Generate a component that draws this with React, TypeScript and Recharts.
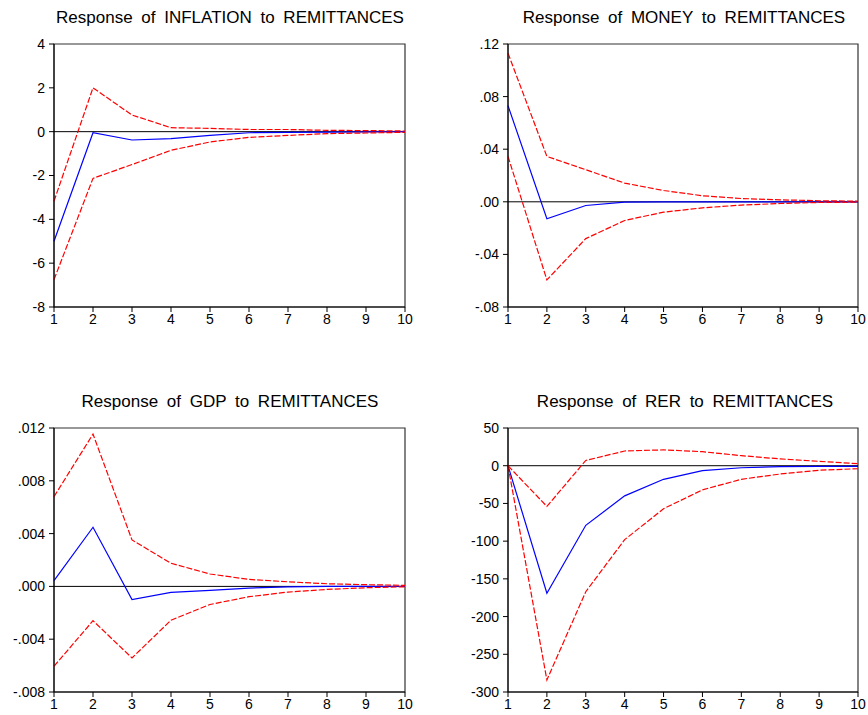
import React from "react";
import { LineChart, Line, XAxis, YAxis, ReferenceLine, ReferenceArea } from "recharts";

const periods = [1, 2, 3, 4, 5, 6, 7, 8, 9, 10];

const inflationMean = [-5.0, -0.05, -0.38, -0.32, -0.17, -0.05, -0.03, -0.02, -0.01, 0.0];
const inflationUpper = [-3.17, 2.0, 0.76, 0.18, 0.15, 0.1, 0.1, 0.06, 0.05, 0.03];
const inflationLower = [-6.75, -2.13, -1.5, -0.85, -0.47, -0.26, -0.17, -0.09, -0.06, -0.03];
const inflationTicks = [4, 2, 0, -2, -4, -6, -8];
const inflationTickLabels = ["4", "2", "0", "-2", "-4", "-6", "-8"];

const moneyMean = [0.0731, -0.0129, -0.0028, -0.0003, 0.0, 0.0, 0.0, 0.0, 0.0, 0.0];
const moneyUpper = [0.113, 0.0345, 0.0244, 0.0142, 0.0086, 0.0046, 0.0025, 0.0015, 0.0008, 0.0005];
const moneyLower = [0.0345, -0.0594, -0.028, -0.0142, -0.0079, -0.0046, -0.0025, -0.0013, -0.0005, -0.0003];
const moneyTicks = [0.12, 0.08, 0.04, 0.0, -0.04, -0.08];
const moneyTickLabels = [".12", ".08", ".04", ".00", "-.04", "-.08"];

const gdpMean = [0.00043, 0.00448, -0.00099, -0.00046, -0.0003, -0.00013, -0.00003, 0.0, 0.0, 0.0];
const gdpUpper = [0.0068, 0.01154, 0.00352, 0.00175, 0.00094, 0.00053, 0.00035, 0.0002, 0.00013, 0.00008];
const gdpLower = [-0.00605, -0.0026, -0.00542, -0.00256, -0.00137, -0.00078, -0.00043, -0.00023, -0.0001, -0.00003];
const gdpTicks = [0.012, 0.008, 0.004, 0.0, -0.004, -0.008];
const gdpTickLabels = [".012", ".008", ".004", ".000", "-.004", "-.008"];

const rerMean = [0, -169, -79, -40, -18, -6.6, -2.7, -1.3, -0.9, -0.9];
const rerUpper = [0, -54, 7, 19.5, 21, 18.6, 13.3, 9, 5.8, 2.7];
const rerLower = [0, -284, -167, -98, -57, -32, -18, -11, -6, -4];
const rerTicks = [50, 0, -50, -100, -150, -200, -250, -300];
const rerTickLabels = ["50", "0", "-50", "-100", "-150", "-200", "-250", "-300"];

const FONT = "'Liberation Sans', Arial, sans-serif";

function build(mean: number[], upper: number[], lower: number[]) {
  return periods.map((p, i) => ({ period: p, mean: mean[i], upper: upper[i], lower: lower[i] }));
}

type PanelProps = {
  left: number;
  top: number;
  width: number;
  height: number;
  margin: { top: number; right: number; bottom: number; left: number };
  data: { period: number; mean: number; upper: number; lower: number }[];
  ticks: number[];
  labels: string[];
};

function Panel({ left, top, width, height, margin, data, ticks, labels }: PanelProps) {
  const yMin = Math.min(...ticks);
  const yMax = Math.max(...ticks);
  const fmt = (v: number) => {
    const idx = ticks.findIndex((t) => Math.abs(t - v) < 1e-12);
    return idx >= 0 ? labels[idx] : String(v);
  };
  return (
    <div style={{ position: "absolute", left, top, width, height }}>
      <LineChart width={width} height={height} data={data} margin={margin}>
        <XAxis
          dataKey="period"
          type="number"
          domain={[1, 10]}
          ticks={periods}
          interval={0}
          height={20}
          tickSize={5}
          tickMargin={2}
          axisLine={{ stroke: "#000" }}
          tickLine={{ stroke: "#000" }}
          tick={{ fill: "#000", fontSize: 14, fontFamily: FONT }}
          allowDecimals={false}
        />
        <YAxis
          type="number"
          domain={[yMin, yMax]}
          ticks={ticks}
          interval={0}
          width={40}
          tickSize={5}
          tickMargin={4}
          tickFormatter={fmt}
          axisLine={{ stroke: "#000" }}
          tickLine={{ stroke: "#000" }}
          tick={{ fill: "#000", fontSize: 14, fontFamily: FONT }}
        />
        <ReferenceArea x1={1} x2={10} y1={yMin} y2={yMax} fill="none" stroke="#333" strokeWidth={1.2} fillOpacity={0} ifOverflow="visible" />
        <ReferenceLine y={0} stroke="#000" strokeWidth={1} />
        <Line dataKey="mean" stroke="#0000ff" strokeWidth={1.2} dot={false} isAnimationActive={false} />
        <Line dataKey="upper" stroke="#ff0000" strokeWidth={1.2} strokeDasharray="6 2" dot={false} isAnimationActive={false} />
        <Line dataKey="lower" stroke="#ff0000" strokeWidth={1.2} strokeDasharray="6 2" dot={false} isAnimationActive={false} />
      </LineChart>
    </div>
  );
}

const titles = [
  { text: "Response of INFLATION to REMITTANCES", x: 230, y: 23 },
  { text: "Response of MONEY to REMITTANCES", x: 684, y: 23 },
  { text: "Response of GDP to REMITTANCES", x: 230, y: 407 },
  { text: "Response of RER to REMITTANCES", x: 685, y: 407 },
];

export default function App() {
  return (
    <div style={{ position: "absolute", left: 0, top: 0, width: 868, height: 715, background: "#fff", fontFamily: FONT }}>
      <Panel
        left={0}
        top={0}
        width={434}
        height={340}
        margin={{ top: 44, right: 29, bottom: 13, left: 14 }}
        data={build(inflationMean, inflationUpper, inflationLower)}
        ticks={inflationTicks}
        labels={inflationTickLabels}
      />
      <Panel
        left={434}
        top={0}
        width={434}
        height={340}
        margin={{ top: 44, right: 10, bottom: 13, left: 34 }}
        data={build(moneyMean, moneyUpper, moneyLower)}
        ticks={moneyTicks}
        labels={moneyTickLabels}
      />
      <Panel
        left={0}
        top={380}
        width={434}
        height={335}
        margin={{ top: 48, right: 29, bottom: 3, left: 14 }}
        data={build(gdpMean, gdpUpper, gdpLower)}
        ticks={gdpTicks}
        labels={gdpTickLabels}
      />
      <Panel
        left={434}
        top={380}
        width={434}
        height={335}
        margin={{ top: 48, right: 10, bottom: 3, left: 34 }}
        data={build(rerMean, rerUpper, rerLower)}
        ticks={rerTicks}
        labels={rerTickLabels}
      />
      <svg width={868} height={715} style={{ position: "absolute", left: 0, top: 0, pointerEvents: "none" }}>
        {titles.map((t) => (
          <text key={t.text} x={t.x} y={t.y} textAnchor="middle" fontSize={17} fontFamily={FONT} fill="#000" style={{ wordSpacing: "4px" }}>
            {t.text}
          </text>
        ))}
      </svg>
    </div>
  );
}
